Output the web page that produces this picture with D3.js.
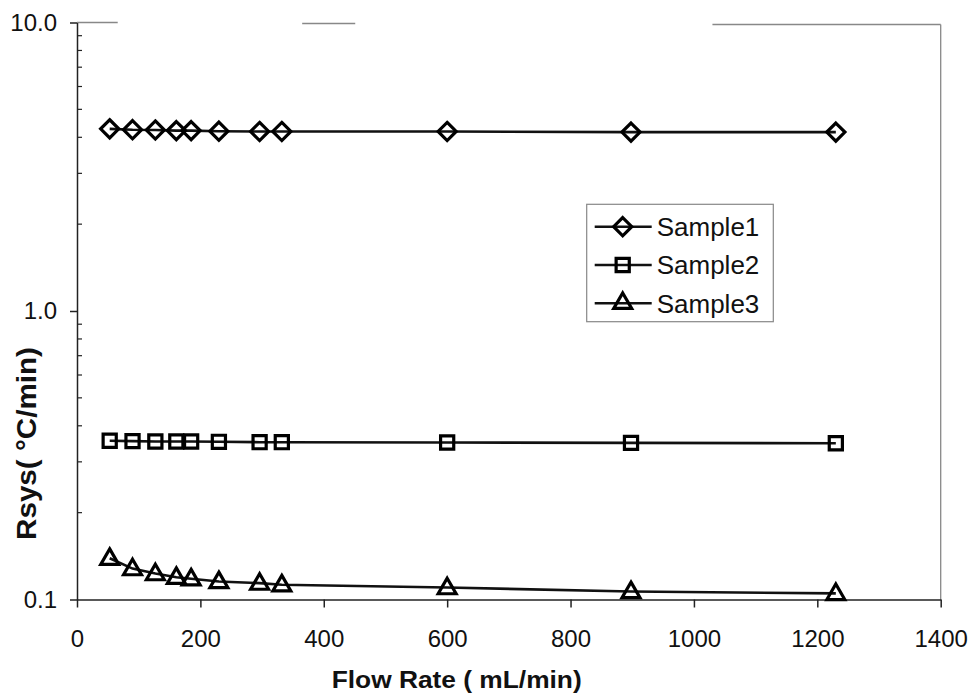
<!DOCTYPE html>
<html lang="en">
<head>
  <meta charset="UTF-8">
  <title>Rsys vs Flow Rate</title>
  <script src="https://cdn.jsdelivr.net/npm/d3@7"></script>
  <style>
    body { margin: 0; background: #fff; }
    svg text { font-family: "Liberation Sans", Arial, sans-serif; fill: #111; }
    .axis path, .axis line { stroke: #222; stroke-width: 1.5px; }
  </style>
</head>
<body>
  <div id="viz"></div>
  <script>
    // flow rates (mL/min)
    var flowRates = [53, 90, 127, 161, 185, 230, 296, 332, 600, 898, 1230];
    // Rsys values for each sample
    var sample1 = [4.28, 4.25, 4.24, 4.22, 4.22, 4.20, 4.19, 4.19, 4.19, 4.17, 4.17];
    var sample2 = [0.355, 0.354, 0.353, 0.353, 0.353, 0.352, 0.351, 0.351, 0.350, 0.349, 0.348];
    var sample3 = [0.139, 0.128, 0.123, 0.1195, 0.118, 0.1155, 0.114, 0.1125, 0.110, 0.1066, 0.105];
    var seriesNames = ["Sample1", "Sample2", "Sample3"];
    var xTicks = [0, 200, 400, 600, 800, 1000, 1200, 1400];
    var yTicks = [0.1, 1, 10];
    // pieces of the faded top border that survive in the scan (x in mL/min)
    var topBorderPieces = [[0, 66], [365, 451], [1030, 1400]];

    var width = 974, height = 700;
    var svg = d3.select("#viz").append("svg")
      .attr("width", width)
      .attr("height", height);

    var x = d3.scaleLinear().domain([0, 1400]).range([77, 940.7]);
    var y = d3.scaleLog().domain([0.1, 10]).range([599.5, 22.5]);

    // faded frame: top and right
    svg.append("g").selectAll("line")
      .data(topBorderPieces)
      .enter().append("line")
      .attr("x1", function(d) { return x(d[0]); })
      .attr("x2", function(d) { return x(d[1]); })
      .attr("y1", function(d, i) { return y(10) + i; })
      .attr("y2", function(d, i) { return y(10) + i; })
      .attr("stroke", "#888")
      .attr("stroke-width", 1.3);

    svg.append("line")
      .attr("x1", x(1400)).attr("x2", x(1400))
      .attr("y1", y(10) + 2).attr("y2", y(0.1))
      .attr("stroke", "#888")
      .attr("stroke-width", 1.3);

    // x axis
    var xAxis = svg.append("g")
      .attr("class", "axis")
      .attr("transform", "translate(0," + y(0.1) + ")")
      .call(d3.axisBottom(x).tickValues(xTicks).tickFormat(d3.format("d"))
        .tickSize(8).tickSizeOuter(0).tickPadding(22));
    xAxis.selectAll("text").style("font-size", "24px");

    // y axis
    var yAxis = svg.append("g")
      .attr("class", "axis")
      .attr("transform", "translate(" + x(0) + ",0)")
      .call(d3.axisLeft(y).tickValues(yTicks).tickFormat(d3.format(".1f"))
        .tickSize(7).tickSizeOuter(0).tickPadding(13));
    yAxis.selectAll("text").style("font-size", "24px");

    // minor log ticks, pointing inward
    var minor = [];
    [0.1, 1].forEach(function(dec) {
      for (var k = 2; k <= 9; k++) minor.push(dec * k);
    });
    svg.append("g").selectAll("line")
      .data(minor)
      .enter().append("line")
      .attr("x1", x(0)).attr("x2", x(0) + 5)
      .attr("y1", function(d) { return y(d); })
      .attr("y2", function(d) { return y(d); })
      .attr("stroke", "#222")
      .attr("stroke-width", 1.2);

    // axis titles
    svg.append("text")
      .attr("x", 456.7)
      .attr("y", 688)
      .attr("text-anchor", "middle")
      .attr("textLength", 250)
      .attr("lengthAdjust", "spacingAndGlyphs")
      .style("font-size", "23px")
      .style("font-weight", "bold")
      .text("Flow Rate ( mL/min)");

    svg.append("text")
      .attr("transform", "translate(36,443.5) rotate(-90)")
      .attr("text-anchor", "middle")
      .attr("textLength", 193)
      .attr("lengthAdjust", "spacingAndGlyphs")
      .style("font-size", "27px")
      .style("font-weight", "bold")
      .text("Rsys( °C/min)");

    // marker shapes
    var shapes = [
      d3.symbol().type(d3.symbolDiamond2).size(210),
      d3.symbol().type(d3.symbolSquare2).size(220),
      d3.symbol().type(d3.symbolTriangle2).size(230)
    ];

    var allSeries = [sample1, sample2, sample3];

    var line = d3.line()
      .x(function(d) { return x(d[0]); })
      .y(function(d) { return y(d[1]); });

    allSeries.forEach(function(vals, s) {
      var pts = flowRates.map(function(f, i) { return [f, vals[i]]; });
      var g = svg.append("g");
      g.append("path")
        .datum(pts)
        .attr("d", line)
        .attr("fill", "none")
        .attr("stroke", "#111")
        .attr("stroke-width", 2.6);
      g.selectAll("path.mark")
        .data(pts)
        .enter().append("path")
        .attr("class", "mark")
        .attr("d", shapes[s])
        .attr("transform", function(d) {
          return "translate(" + x(d[0]) + "," + (y(d[1]) + (s == 2 ? 1 : 0)) + ")";
        })
        .attr("fill", "none")
        .attr("stroke", "#000")
        .attr("stroke-width", 3.2);
    });

    // legend
    var legend = svg.append("g").attr("transform", "translate(586.7,204.3)");
    legend.append("rect")
      .attr("width", 186.6)
      .attr("height", 117.4)
      .attr("fill", "#fff")
      .attr("stroke", "#888")
      .attr("stroke-width", 1.2);

    var items = legend.selectAll("g.item")
      .data(seriesNames)
      .enter().append("g")
      .attr("class", "item")
      .attr("transform", function(d, i) { return "translate(0," + (22.4 + i * 38.3) + ")"; });
    items.append("line")
      .attr("x1", 8).attr("x2", 65)
      .attr("stroke", "#111")
      .attr("stroke-width", 2.6);
    items.append("path")
      .attr("d", function(d, i) { return shapes[i](); })
      .attr("transform", "translate(36,0)")
      .attr("fill", "none")
      .attr("stroke", "#000")
      .attr("stroke-width", 3.2);
    items.append("text")
      .attr("x", 70)
      .attr("dy", "0.36em")
      .style("font-size", "26px")
      .text(function(d) { return d; });
  </script>
</body>
</html>
